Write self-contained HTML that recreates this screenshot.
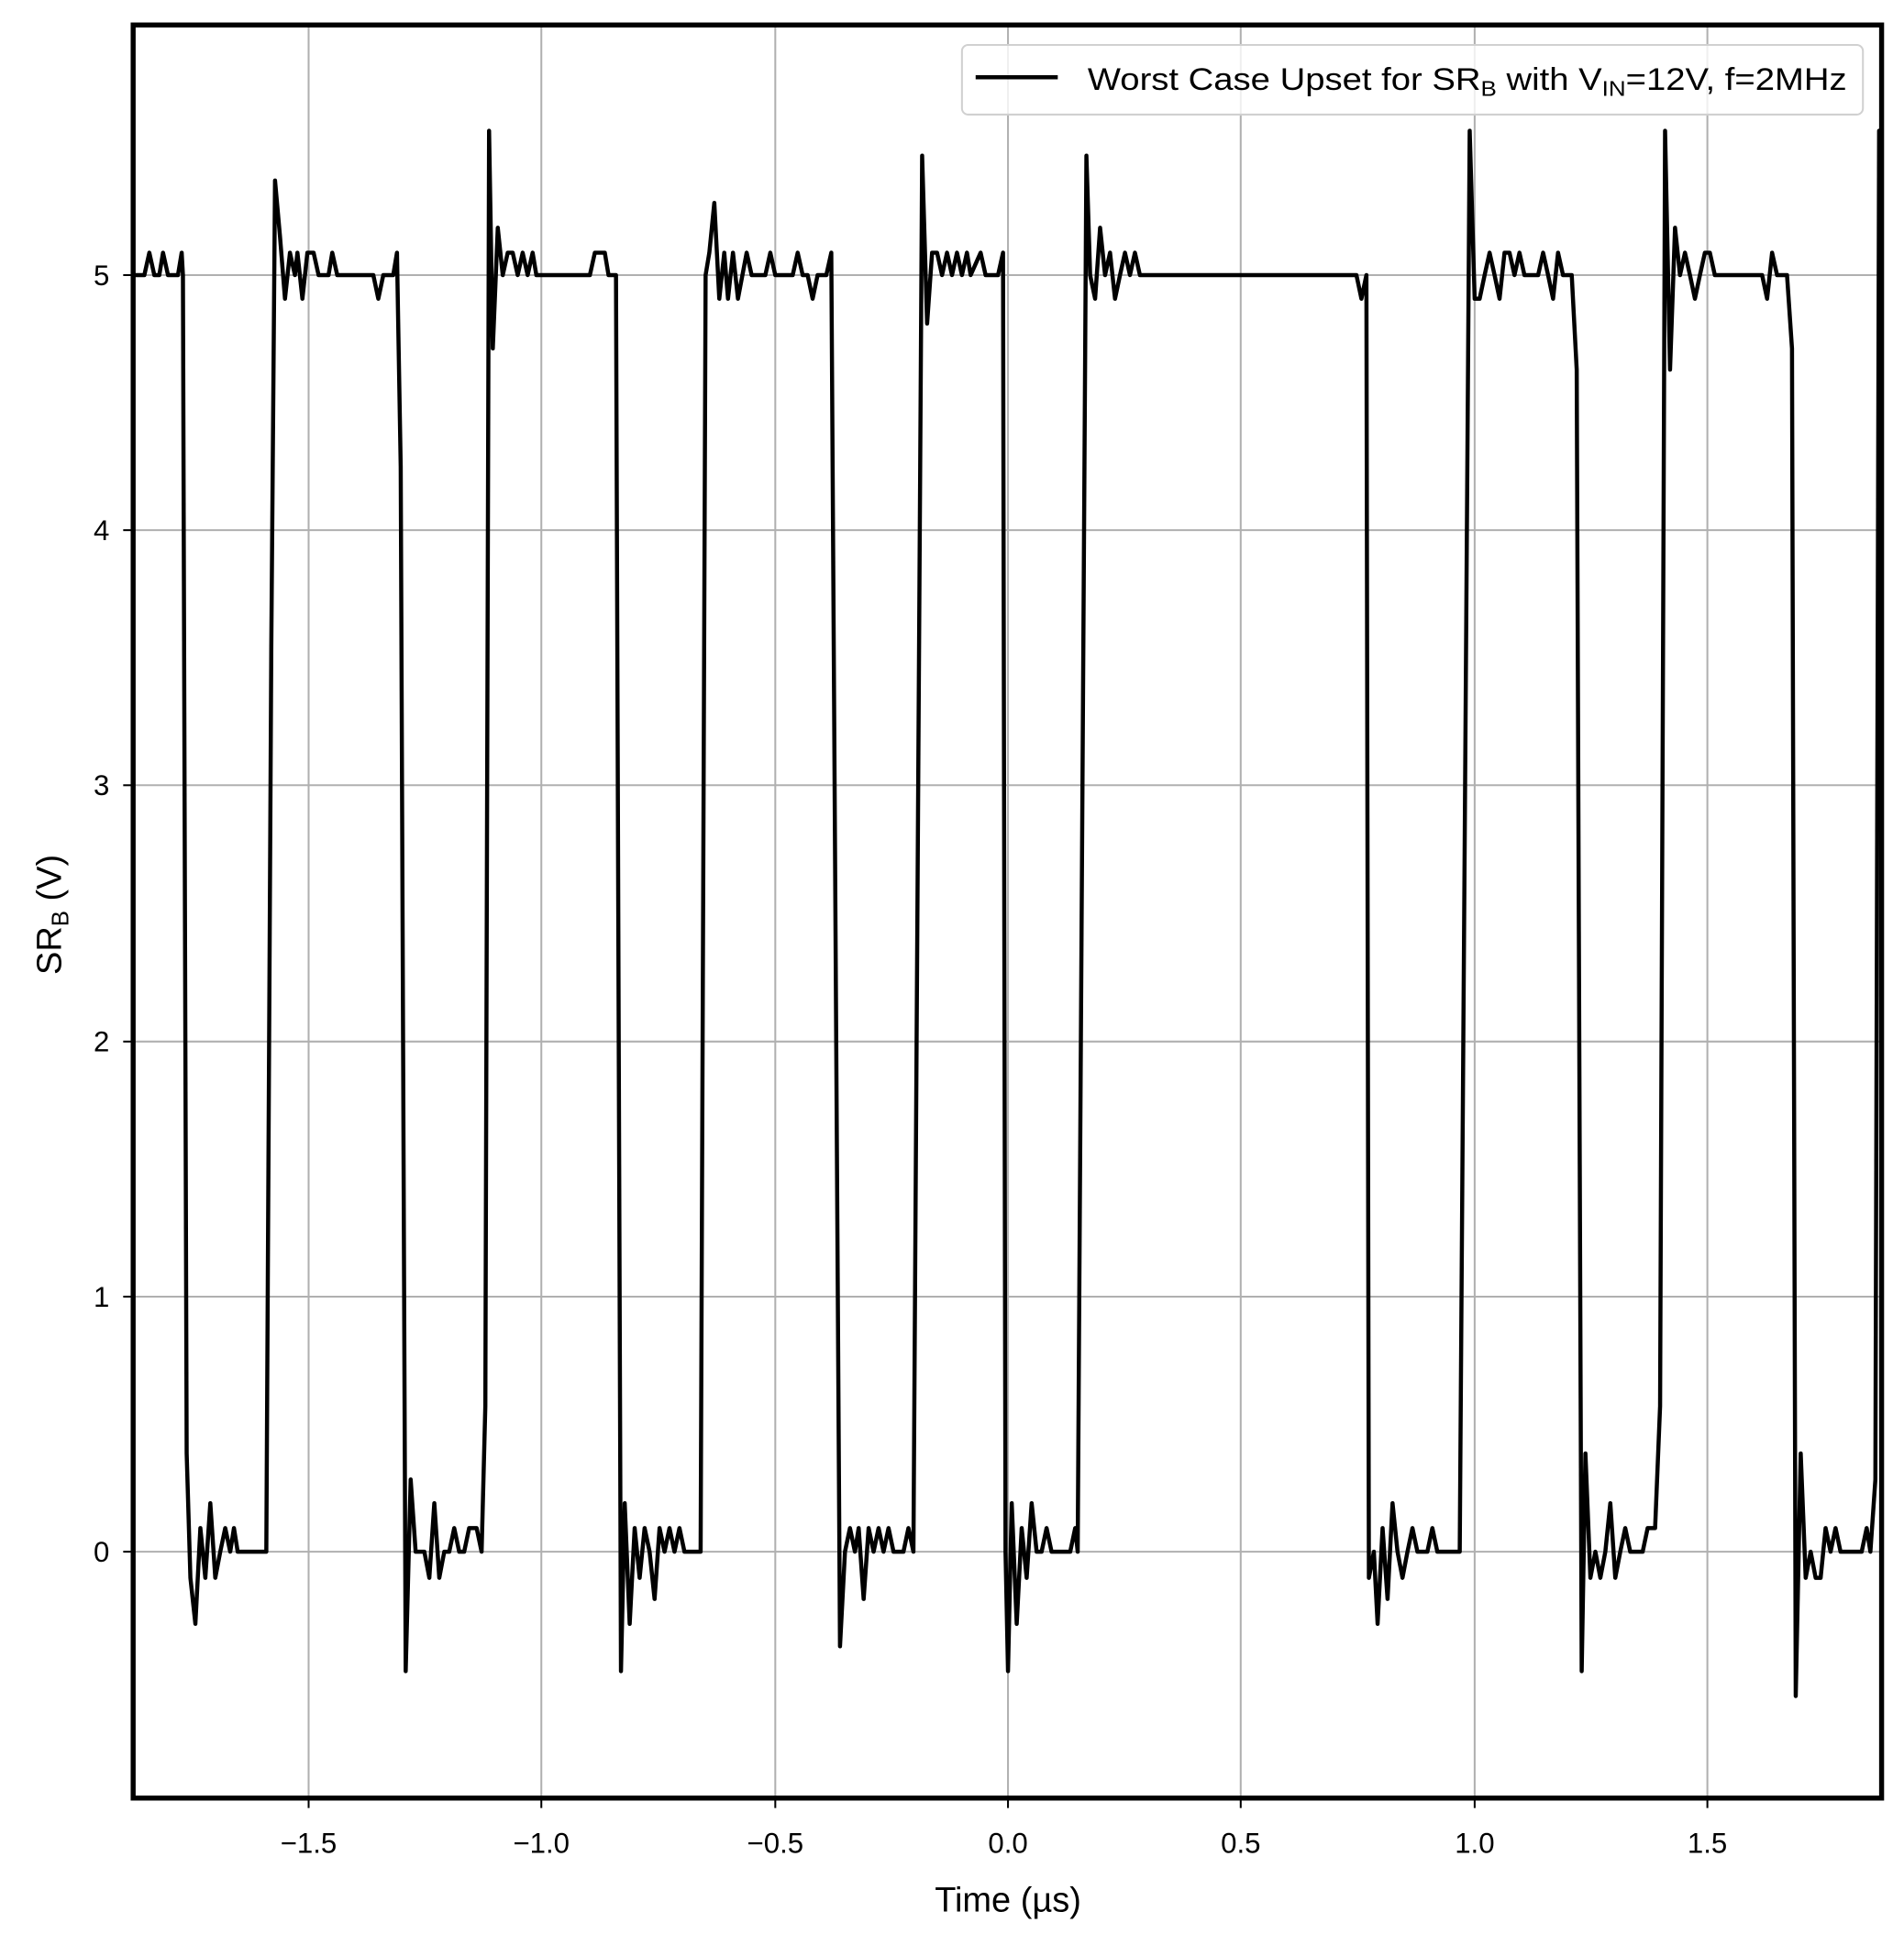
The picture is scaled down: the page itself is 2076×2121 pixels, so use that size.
<!DOCTYPE html>
<html><head><meta charset="utf-8"><style>html,body{margin:0;padding:0;background:#fff}svg{display:block}</style></head>
<body>
<svg width="2076" height="2121" viewBox="0 0 1530 1563" xmlns="http://www.w3.org/2000/svg" font-family="Liberation Sans, DejaVu Sans, sans-serif">
<defs><clipPath id="c"><rect x="107" y="20" width="1405" height="1425"/></clipPath></defs>
<g stroke="#b0b0b0" stroke-width="1.5">
<line x1="248" y1="20" x2="248" y2="1445"/><line x1="435" y1="20" x2="435" y2="1445"/><line x1="623" y1="20" x2="623" y2="1445"/><line x1="810" y1="20" x2="810" y2="1445"/><line x1="997" y1="20" x2="997" y2="1445"/><line x1="1185" y1="20" x2="1185" y2="1445"/><line x1="1372" y1="20" x2="1372" y2="1445"/>
<line x1="107" y1="1247" x2="1512" y2="1247"/><line x1="107" y1="1042" x2="1512" y2="1042"/><line x1="107" y1="837" x2="1512" y2="837"/><line x1="107" y1="631" x2="1512" y2="631"/><line x1="107" y1="426" x2="1512" y2="426"/><line x1="107" y1="221" x2="1512" y2="221"/>
</g>
<polyline clip-path="url(#c)" fill="none" stroke="#000" stroke-width="3.3" stroke-linejoin="round" points="107,221 116,221 120,203 124,221 128,221 131,203 135,221 143,221 146,203 147,221 150,1168 153,1268 157,1305 161,1228 165,1268 169,1208 173,1268 177,1247 181,1228 185,1247 188,1228 191,1247 214,1247 218,520 221,145 225,190 229,240 233,203 237,221 239,203 243,240 247,203 252,203 256,221 264,221 267,203 271,221 300,221 304,240 308,221 316,221 319,203 322,375 326,1343 330,1189 334,1247 341,1247 345,1268 349,1208 353,1268 357,1247 361,1247 365,1228 369,1247 373,1247 377,1228 383,1228 387,1247 390,1130 393,105 396,280 400,183 404,221 408,203 412,203 416,221 420,203 424,221 428,203 431,221 474,221 478,203 486,203 489,221 495,221 499,1343 502,1208 506,1305 510,1228 514,1268 518,1228 522,1247 526,1285 530,1228 534,1247 538,1228 542,1247 546,1228 550,1247 563,1247 567,221 570,203 574,163 578,240 582,203 585,240 589,203 593,240 600,203 604,221 615,221 619,203 623,221 637,221 641,203 645,221 649,221 653,240 657,221 664,221 668,203 675,1323 679,1247 683,1228 687,1247 690,1228 694,1285 698,1228 702,1247 706,1228 710,1247 714,1228 718,1247 726,1247 730,1228 734,1247 741,125 745,260 749,203 753,203 757,221 761,203 765,221 769,203 773,221 777,203 780,221 788,203 792,221 802,221 806,203 808,1247 810,1343 813,1208 817,1305 821,1228 825,1268 829,1208 833,1247 837,1247 841,1228 845,1247 860,1247 864,1228 866,1247 873,125 876,221 880,240 884,183 888,221 892,203 896,240 900,221 904,203 908,221 912,203 916,221 1090,221 1094,240 1098,221 1100,1268 1104,1247 1107,1305 1111,1228 1115,1285 1119,1208 1123,1247 1127,1268 1131,1247 1135,1228 1139,1247 1147,1247 1151,1228 1155,1247 1173,1247 1181,105 1185,240 1189,240 1193,221 1197,203 1201,221 1205,240 1209,203 1213,203 1217,221 1221,203 1225,221 1236,221 1240,203 1244,221 1248,240 1252,203 1256,221 1263,221 1267,297 1271,1343 1274,1168 1278,1268 1282,1247 1286,1268 1290,1247 1294,1208 1298,1268 1302,1247 1306,1228 1310,1247 1320,1247 1324,1228 1330,1228 1334,1130 1338,105 1342,297 1346,183 1350,221 1354,203 1358,221 1362,240 1366,221 1370,203 1374,203 1378,221 1416,221 1420,240 1424,203 1428,221 1436,221 1440,280 1443,1363 1447,1168 1451,1268 1455,1247 1459,1268 1463,1268 1467,1228 1471,1247 1475,1228 1479,1247 1496,1247 1500,1228 1503,1247 1507,1189 1510,105 1514,105"/>
<rect x="107" y="20" width="1405" height="1425" fill="none" stroke="#000" stroke-width="4"/>
<g stroke="#000" stroke-width="1.5">
<line x1="248" y1="1445" x2="248" y2="1453"/><line x1="435" y1="1445" x2="435" y2="1453"/><line x1="623" y1="1445" x2="623" y2="1453"/><line x1="810" y1="1445" x2="810" y2="1453"/><line x1="997" y1="1445" x2="997" y2="1453"/><line x1="1185" y1="1445" x2="1185" y2="1453"/><line x1="1372" y1="1445" x2="1372" y2="1453"/>
<line x1="99" y1="1247" x2="107" y2="1247"/><line x1="99" y1="1042" x2="107" y2="1042"/><line x1="99" y1="837" x2="107" y2="837"/><line x1="99" y1="631" x2="107" y2="631"/><line x1="99" y1="426" x2="107" y2="426"/><line x1="99" y1="221" x2="107" y2="221"/>
</g>
<g font-size="23" text-anchor="middle" fill="#000">
<text x="248" y="1489">−1.5</text><text x="435" y="1489">−1.0</text><text x="623" y="1489">−0.5</text><text x="810" y="1489">0.0</text><text x="997" y="1489">0.5</text><text x="1185" y="1489">1.0</text><text x="1372" y="1489">1.5</text>
</g>
<g font-size="23" text-anchor="end" fill="#000">
<text x="88" y="1255">0</text><text x="88" y="1050">1</text><text x="88" y="845">2</text><text x="88" y="639">3</text><text x="88" y="434">4</text><text x="88" y="229">5</text>
</g>
<text x="810" y="1536" font-size="28" text-anchor="middle">Time (µs)</text>
<text transform="translate(49,735) rotate(-90)" font-size="28" text-anchor="middle">SR<tspan font-size="19" dy="6">B</tspan><tspan dy="-6"> (V)</tspan></text>
<rect x="773" y="36" width="724" height="56" rx="5" fill="#fff" fill-opacity="0.8" stroke="#d0d0d0" stroke-width="1.5"/>
<line x1="784" y1="62" x2="850" y2="62" stroke="#000" stroke-width="3.3"/>
<text x="874" y="72" font-size="25" textLength="610" lengthAdjust="spacingAndGlyphs">Worst Case Upset for SR<tspan font-size="17" dy="5">B</tspan><tspan dy="-5"> with V</tspan><tspan font-size="17" dy="5">IN</tspan><tspan dy="-5">=12V, f=2MHz</tspan></text>
</svg>
</body></html>
